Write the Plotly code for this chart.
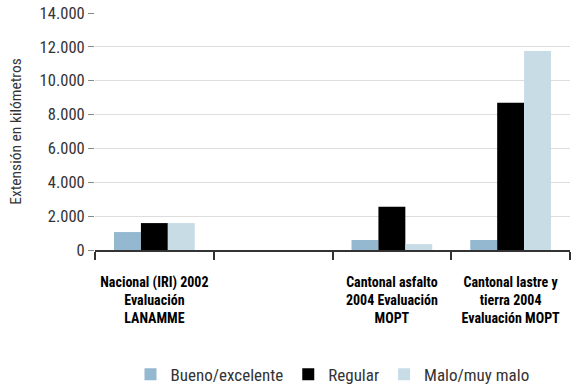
import plotly.graph_objects as go

categories = [
    "Nacional (IRI) 2002<br>Evaluación<br>LANAMME",
    " ",
    "Cantonal asfalto<br>2004 Evaluación<br>MOPT",
    "Cantonal lastre y<br>tierra 2004<br>Evaluación MOPT",
]
bueno = [1060, None, 590, 590]
regular = [1590, None, 2550, 8700]
malo = [1590, None, 350, 11760]

series_names = ["Bueno/excelente", "Regular", "Malo/muy malo"]
series_colors = ["#93b8d0", "#000000", "#c8dce6"]

y_ticks = [0, 2000, 4000, 6000, 8000, 10000, 12000, 14000]

fig = go.Figure()
for name, vals, color in zip(series_names, [bueno, regular, malo], series_colors):
    fig.add_trace(go.Bar(x=categories, y=vals, name=name,
                         marker=dict(color=color, line=dict(width=0))))

fam = "Roboto Condensed, Roboto, sans-serif"

fig.update_layout(
    width=571, height=388,
    margin=dict(l=95, r=1, t=13, b=138, autoexpand=False),
    paper_bgcolor="white", plot_bgcolor="white",
    barmode="group", bargap=0.32, bargroupgap=0,
    separators=",.",
    font=dict(family=fam, color="#333333", size=14),
    legend=dict(orientation="h", x=0.5, xanchor="center", y=-0.45, yanchor="top",
                font=dict(family=fam, size=17, color="#333333"),
                itemwidth=30, traceorder="normal"),
    xaxis=dict(
        type="category", tickson="boundaries", ticks="outside", ticklen=8,
        tickcolor="#333333", tickwidth=1.5, tickangle=0,
        ticklabelstandoff=18, automargin=False,
        showline=True, linecolor="#333333", linewidth=2,
        showgrid=False,
        tickfont=dict(family=fam, size=14, color="#000000", weight="bold"),
    ),
    yaxis=dict(
        range=[0, 14000], tickvals=y_ticks, tickformat=",d",
        ticks="outside", ticklen=6, tickcolor="#888888",
        showgrid=True, gridcolor="#dddddd", gridwidth=1,
        zeroline=False, showline=False, automargin=False,
        tickfont=dict(family=fam, size=16.5, color="#333333"),
        title=dict(text="Extensión en kilómetros",
                   font=dict(family=fam, size=15.5, color="#333333"),
                   standoff=14),
    ),
)

fig.write_html("out.html")
